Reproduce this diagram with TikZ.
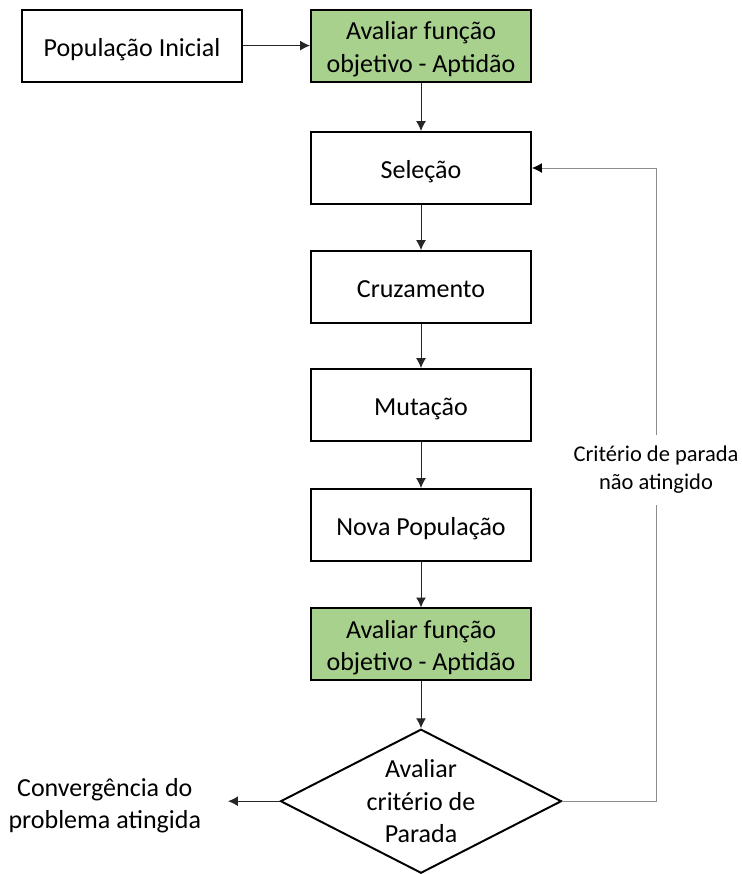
\documentclass[tikz,border=0pt]{standalone}
\usepackage{fontspec}
\setmainfont{Carlito}
\usepackage[dvipsnames]{xcolor}
\usepackage{tikz}
\usetikzlibrary{shapes.geometric}
\usetikzlibrary{arrows.meta}
\definecolor{verdeaptidao}{HTML}{A9D18E}
\tikzset{caixa/.style={shape=rectangle, draw=black, line width=1.4pt,
    minimum width=5.5cm, minimum height=1.8cm, align=center,
    text height=0.6cm, text depth=0.08cm,
    font=\fontsize{18.5}{23}\selectfont}}
\tikzset{caixaverde/.style={caixa, fill=verdeaptidao, inner ysep=0.1cm,
    text height=1.42cm, text depth=0.1cm}}
\tikzset{decisao/.style={shape=diamond, draw=black, line width=1.4pt,
    minimum width=7.025cm, minimum height=3.6cm, inner sep=0pt}}
\tikzset{texto/.style={align=center, font=\fontsize{18.5}{23}\selectfont}}
\tikzset{textomenor/.style={align=center, inner sep=7.5pt, font=\fontsize{16}{20.6}\selectfont}}
\tikzset{seta/.style={-{Latex[length=7pt,width=7pt]}, line width=0.7pt, draw=black!85}}
\tikzset{retorno/.style={line width=0.7pt, draw=black!45}}

\begin{document}
\begin{tikzpicture}
        \useasboundingbox (0,0) rectangle (18.525,-21.85);

            \node[caixa] (P) at (3.3,-1.14) {População Inicial};
            \node[caixaverde] (A) at (10.525,-1.14) {Avaliar função\\objetivo - Aptidão};
            \node[caixa] (S) at (10.525,-4.2) {Seleção};
            \node[caixa] (C) at (10.525,-7.175) {Cruzamento};
            \node[caixa] (M) at (10.525,-10.125) {Mutação};
            \node[caixa] (N) at (10.525,-13.125) {Nova População};
            \node[caixaverde] (B) at (10.525,-16.11) {Avaliar função\\objetivo - Aptidão};
            \node[decisao] (D) at (10.525,-20.03) {};
            \node[texto] (Dt) at (D) {Avaliar\\critério de\\Parada};
            \coordinate (T) at (5.7,-20.03);
            \node[texto] (F) at (2.62,-20.15) {Convergência do\\problema atingida};
            \node[textomenor] (R) at (16.4,-11.74) {Critério de parada\\não atingido};

            \draw[seta] (P) -- (A);
            \draw[seta] (A) -- (S);
            \draw[seta] (S) -- (C);
            \draw[seta] (C) -- (M);
            \draw[seta] (M) -- (N);
            \draw[seta] (N) -- (B);
            \draw[seta] (B) -- (D);
            \draw[seta] (D.west) -- (T);
            \draw[retorno] (D.east) -| (R.south);
            \draw[retorno, -{Latex[length=7pt,width=7pt,black]}] (R.north) |- (S.east);

        \end{tikzpicture}
\end{document}
